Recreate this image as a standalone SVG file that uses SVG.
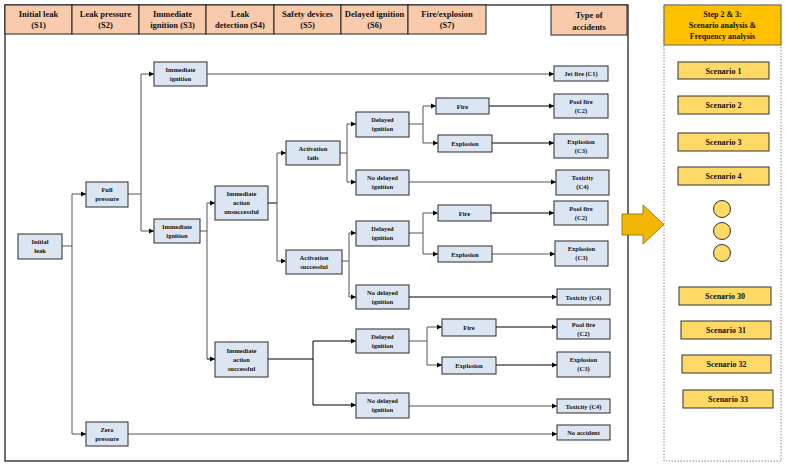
<svg xmlns="http://www.w3.org/2000/svg" width="790" height="466" viewBox="0 0 790 466">
<defs>
<marker id="ar" markerWidth="6" markerHeight="6" refX="5" refY="3" orient="auto" markerUnits="userSpaceOnUse"><path d="M0,0.5 L5,3 L0,5.5 Z" fill="#000"/></marker>
<style>
text{font-family:"Liberation Serif",serif;font-weight:bold;text-anchor:middle;fill:#111}
.n rect{fill:#DCE6F2;stroke:#2b2b2b;stroke-width:1}
.n text{font-size:6.5px}
.h rect{fill:#F8CBAD;stroke:#222;stroke-width:1}
.h text{font-size:8.5px}
.s .b{fill:#FFD966;stroke:#333;stroke-width:1}
.s text{font-size:8px}
.c path{fill:none;stroke:#555;stroke-width:1}
.c .a{marker-end:url(#ar)}
.c .k{stroke:#000}
</style>
</defs>
<rect x="0" y="0" width="790" height="466" fill="#fff"/>
<rect x="5" y="5" width="623" height="456" fill="none" stroke="#111" stroke-width="1.2"/>
<g id="header" class="h">
<rect x="5" y="5" width="67" height="29"/><text x="38.5" y="17">Initial leak</text><text x="38.5" y="28">(S1)</text>
<rect x="72" y="5" width="67" height="29"/><text x="105.5" y="17">Leak pressure</text><text x="105.5" y="28">(S2)</text>
<rect x="139" y="5" width="67" height="29"/><text x="172.5" y="17">Immediate</text><text x="172.5" y="28">ignition (S3)</text>
<rect x="206" y="5" width="68" height="29"/><text x="240" y="17">Leak</text><text x="240" y="28">detection (S4)</text>
<rect x="274" y="5" width="67" height="29"/><text x="307.5" y="17">Safety devices</text><text x="307.5" y="28">(S5)</text>
<rect x="341" y="5" width="67" height="29"/><text x="374.5" y="17">Delayed ignition</text><text x="374.5" y="28">(S6)</text>
<rect x="408" y="5" width="78" height="29"/><text x="447" y="17">Fire/explosion</text><text x="447" y="28">(S7)</text>
<rect x="551" y="5" width="76" height="30"/><text x="589" y="18" font-size="9.5">Type of</text><text x="589" y="30" font-size="9.5">accidents</text>
</g>
<g id="connectors" class="c">
<path d="M62,246 H72"/><path d="M72,194 V434"/><path class="a" d="M72,194 H86"/><path class="a" d="M72,434 H86"/>
<path d="M128,194 H141"/><path d="M141,74 V231"/><path class="a" d="M141,74 H154"/><path class="a" d="M141,231 H154"/>
<path class="a" d="M207,74 H554"/>
<path d="M200,231 H207"/><path d="M207,203 V359"/><path class="a" d="M207,203 H215"/><path class="a k" d="M207,359 H215"/>
<path class="k" d="M268,203 H277"/><path d="M277,153 V261"/><path class="a" d="M277,153 H286"/><path class="a" d="M277,261 H286"/>
<path d="M340,153 H347"/><path d="M347,124 V182"/><path class="a" d="M347,124 H356"/><path class="a" d="M347,182 H356"/>
<path d="M342,261 H349"/><path d="M349,233 V297"/><path class="a" d="M349,233 H356"/><path class="a" d="M349,297 H356"/>
<path class="k" d="M268,359 H313"/><path class="k" d="M313,341 V405"/><path class="a k" d="M313,341 H356"/><path class="a k" d="M313,405 H356"/>
<path d="M409,124 H423"/><path d="M423,106 V143"/><path class="a" d="M423,106 H436"/><path class="a" d="M423,143 H438"/>
<path class="a k" d="M489,106 H554"/><path class="a k" d="M492,143 H554"/><path class="a" d="M409,182 H556"/>
<path d="M409,233 H423"/><path d="M423,213 V254"/><path class="a" d="M423,213 H438"/><path class="a" d="M423,254 H438"/>
<path class="a k" d="M491,213 H554"/><path class="a" d="M492,254 H555"/><path class="a k" d="M409,297 H557"/>
<path d="M409,341 H427"/><path d="M427,327 V365"/><path class="a" d="M427,327 H442"/><path class="a" d="M427,365 H442"/>
<path class="a k" d="M496,327 H557"/><path class="a k" d="M496,365 H557"/><path class="a" d="M409,406 H557"/>
<path class="a" d="M128,434 H557"/>
</g>
<g id="n-initial" class="n"><rect x="18" y="234" width="44" height="25"/><text x="40" y="244">Initial</text><text x="40" y="253">leak</text></g>
<g id="n-full" class="n"><rect x="86" y="182" width="42" height="25"/><text x="107" y="192">Full</text><text x="107" y="201">pressure</text></g>
<g id="n-zero" class="n"><rect x="86" y="422" width="42" height="24"/><text x="107" y="432">Zero</text><text x="107" y="441">pressure</text></g>
<g id="n-ii1" class="n"><rect x="154" y="62" width="53" height="24"/><text x="180.5" y="72">Immediate</text><text x="180.5" y="81">ignition</text></g>
<g id="n-ii2" class="n"><rect x="154" y="219" width="46" height="24"/><text x="177" y="229">Immediate</text><text x="177" y="238">ignition</text></g>
<g id="n-iau" class="n"><rect x="215" y="186" width="53" height="34"/><text x="241.5" y="196">Immediate</text><text x="241.5" y="205">action</text><text x="241.5" y="214">unsuccessful</text></g>
<g id="n-ias" class="n"><rect x="215" y="342" width="53" height="35"/><text x="241.5" y="353">Immediate</text><text x="241.5" y="362">action</text><text x="241.5" y="371">successful</text></g>
<g id="n-af" class="n"><rect x="286" y="141" width="54" height="24"/><text x="313" y="151">Activation</text><text x="313" y="160">fails</text></g>
<g id="n-as" class="n"><rect x="286" y="250" width="56" height="24"/><text x="314" y="260">Activation</text><text x="314" y="269">successful</text></g>
<g id="n-di1" class="n"><rect x="356" y="112" width="53" height="25"/><text x="382.5" y="122">Delayed</text><text x="382.5" y="131">ignition</text></g>
<g id="n-nd1" class="n"><rect x="356" y="170" width="53" height="25"/><text x="382.5" y="180">No delayed</text><text x="382.5" y="189">ignition</text></g>
<g id="n-di2" class="n"><rect x="356" y="221" width="53" height="25"/><text x="382.5" y="231">Delayed</text><text x="382.5" y="240">ignition</text></g>
<g id="n-nd2" class="n"><rect x="356" y="285" width="53" height="24"/><text x="382.5" y="295">No delayed</text><text x="382.5" y="304">ignition</text></g>
<g id="n-di3" class="n"><rect x="356" y="329" width="53" height="24"/><text x="382.5" y="339">Delayed</text><text x="382.5" y="348">ignition</text></g>
<g id="n-nd3" class="n"><rect x="356" y="393" width="53" height="25"/><text x="382.5" y="403">No delayed</text><text x="382.5" y="412">ignition</text></g>
<g id="n-f1" class="n"><rect x="436" y="98" width="53" height="16"/><text x="462.5" y="108.5">Fire</text></g>
<g id="n-e1" class="n"><rect x="438" y="135" width="54" height="17"/><text x="465" y="146">Explosion</text></g>
<g id="n-f2" class="n"><rect x="438" y="205" width="53" height="16"/><text x="464.5" y="215.5">Fire</text></g>
<g id="n-e2" class="n"><rect x="438" y="246" width="54" height="16"/><text x="465" y="256.5">Explosion</text></g>
<g id="n-f3" class="n"><rect x="442" y="319" width="54" height="17"/><text x="469" y="330">Fire</text></g>
<g id="n-e3" class="n"><rect x="442" y="357" width="54" height="17"/><text x="469" y="368">Explosion</text></g>
<g id="n-c1" class="n"><rect x="554" y="66" width="54" height="15"/><text x="581" y="76">Jet fire (C1)</text></g>
<g id="n-c2a" class="n"><rect x="554" y="94" width="54" height="24"/><text x="581" y="104">Pool fire</text><text x="581" y="113">(C2)</text></g>
<g id="n-c3a" class="n"><rect x="554" y="134" width="54" height="24"/><text x="581" y="144">Explosion</text><text x="581" y="153">(C3)</text></g>
<g id="n-c4a" class="n"><rect x="556" y="170" width="53" height="25"/><text x="582.5" y="180">Toxicity</text><text x="582.5" y="189">(C4)</text></g>
<g id="n-c2b" class="n"><rect x="554" y="201" width="54" height="24"/><text x="581" y="211">Pool fire</text><text x="581" y="220">(C2)</text></g>
<g id="n-c3b" class="n"><rect x="555" y="241" width="53" height="25"/><text x="581.5" y="251">Explosion</text><text x="581.5" y="260">(C3)</text></g>
<g id="n-c4b" class="n"><rect x="557" y="289" width="53" height="16"/><text x="583.5" y="299.5">Toxicity (C4)</text></g>
<g id="n-c2c" class="n"><rect x="557" y="319" width="53" height="20"/><text x="583.5" y="327">Pool fire</text><text x="583.5" y="336">(C2)</text></g>
<g id="n-c3c" class="n"><rect x="557" y="352" width="53" height="25"/><text x="583.5" y="362">Explosion</text><text x="583.5" y="371">(C3)</text></g>
<g id="n-c4c" class="n"><rect x="557" y="399" width="53" height="14"/><text x="583.5" y="408.5">Toxicity (C4)</text></g>
<g id="n-na" class="n"><rect x="557" y="425" width="53" height="15"/><text x="583.5" y="435">No accident</text></g>
<g id="big-arrow"><path d="M622,214 H643 V205 L664,224.5 L643,244 V235 H622 Z" fill="#F2B705" stroke="#8a6a00" stroke-width="0.8"/></g>
<g id="panel" class="s">
<rect x="664" y="5" width="117" height="456" fill="none" stroke="#888" stroke-dasharray="1.5,1.5"/>
<rect x="664" y="5" width="117" height="40" fill="#FFC000" stroke="#666"/>
<text x="722.5" y="17" font-size="7.5">Step 2 &amp; 3:</text>
<text x="722.5" y="28" font-size="7.5">Scenario analysis &amp;</text>
<text x="722.5" y="39" font-size="7.5">Frequency analysis</text>
<rect class="b" x="678" y="62" width="91" height="17"/><text x="723.5" y="73.5">Scenario 1</text>
<rect class="b" x="678" y="96" width="91" height="18"/><text x="723.5" y="108">Scenario 2</text>
<rect class="b" x="678" y="133" width="91" height="18"/><text x="723.5" y="145">Scenario 3</text>
<rect class="b" x="678" y="167" width="91" height="18"/><text x="723.5" y="179">Scenario 4</text>
<circle class="b" cx="722" cy="209" r="8.5"/>
<circle class="b" cx="722" cy="231" r="8.5"/>
<circle class="b" cx="722" cy="253" r="8.5"/>
<rect class="b" x="679" y="287" width="92" height="18"/><text x="725" y="299">Scenario 30</text>
<rect class="b" x="681" y="321" width="90" height="18"/><text x="726" y="333">Scenario 31</text>
<rect class="b" x="682" y="355" width="89" height="18"/><text x="726.5" y="367">Scenario 32</text>
<rect class="b" x="683" y="390" width="90" height="18"/><text x="728" y="402">Scenario 33</text>
</g>
</svg>
